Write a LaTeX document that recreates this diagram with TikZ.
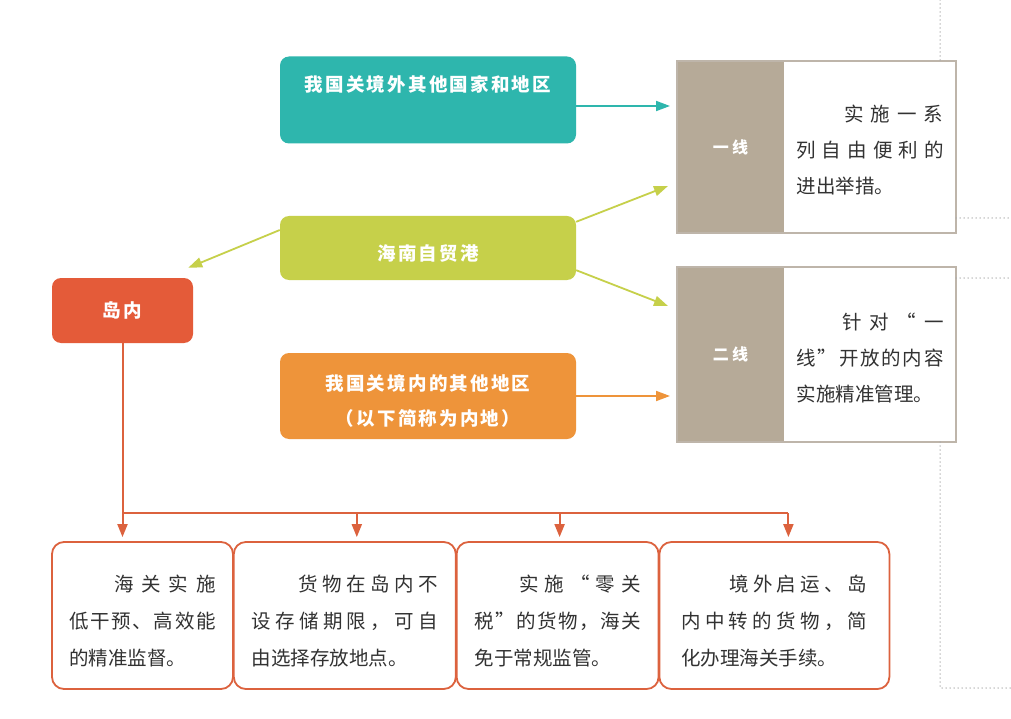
\documentclass[tikz,border=0pt]{standalone}
\usepackage{fontspec}
\usepackage{xcolor}
\usetikzlibrary{positioning,arrows.meta}
\newfontfamily\cjk{Noto Sans CJK SC}
\newfontfamily\cjktag[LetterSpace=20]{Noto Sans CJK SC}
\newfontfamily\cjkhead[LetterSpace=12]{Noto Sans CJK SC}
\definecolor{portTeal}{RGB}{46,182,173}
\definecolor{portGreen}{RGB}{198,208,74}
\definecolor{portOrange}{RGB}{238,148,58}
\definecolor{portRed}{RGB}{228,91,57}
\definecolor{portTaupe}{RGB}{182,170,152}
\definecolor{portFrame}{RGB}{190,181,170}
\definecolor{portLine}{RGB}{220,98,62}
\definecolor{portInk}{RGB}{50,50,50}
\definecolor{portDots}{RGB}{170,170,170}
\newcommand\jstop{}
\newcommand\jnext[1]{\ifx#1\jstop\else\hfill#1\expandafter\jnext\fi}
\newcommand\jfirst[1]{#1\jnext}
\newcommand\jline[2]{\hbox to #1{\jfirst#2\jstop}}
\newcommand\lift[1]{\rule{0pt}{#1pt}}

\begin{document}
\begin{tikzpicture}[x=1pt,y=-1pt,
    colorbox/.style={rounded corners=9pt,minimum width=296pt,inner sep=0pt,align=center,
      text=white,font=\cjkhead\bfseries\fontsize{18.5}{34}\selectfont},
    tagbox/.style={fill=portTaupe,minimum width=107pt,inner sep=0pt,outer sep=0pt,
      text=white,font=\cjktag\bfseries\fontsize{16}{20}\selectfont},
    notebox/.style={minimum width=172pt,inner sep=0pt,outer sep=0pt,align=left,
      text=portInk,font=\cjk\fontsize{19.5}{36}\selectfont},
    frameline/.style={draw=portFrame,line width=1.8pt},
    bottomnote/.style={draw=portLine,fill=white,line width=1.8pt,rounded corners=12pt,
      minimum height=147pt,align=left,text=portInk,font=\cjk\fontsize{19.5}{37}\selectfont},
    link/.style={line width=1.8pt,-{Triangle[length=14pt,width=10pt]}},
    redline/.style={draw=portLine,line width=2pt},
    dotline/.style={portDots,line width=1.5pt,line cap=round,dash pattern=on 0pt off 4pt}]
    \useasboundingbox (0,0) rectangle (1011,719);
    \fill[white] (0,0) rectangle (1011,719);

    \node[colorbox,fill=portTeal,minimum height=87pt] (abroad) at (428,100)
      {我国关境外其他国家和地区\\ \mbox{}};
    \node[colorbox,fill=portGreen,minimum height=64pt] (port) at (428,248)
      {\lift{26}海南自贸港};
    \node[colorbox,fill=portOrange,minimum height=86pt,
      font=\cjkhead\bfseries\fontsize{18.5}{35}\selectfont] (mainland) at (428,396)
      {\lift{26}我国关境内的其他地区\\（以下简称为内地）};
    \node[colorbox,fill=portRed,minimum width=141pt,minimum height=65pt] (island)
      at (122.5,310.5) {岛内};

    \node[tagbox,minimum height=172pt] (yixian) at (730.5,147) {一线};
    \node[notebox,minimum height=172pt,right=0pt of yixian] (yixiannote)
      {\lift{23}\hspace*{48pt}\jline{99pt}{实施一系}\\\jline{147pt}{列自由便利的}\\进出举措。};
    \draw[frameline] (yixian.north west) rectangle (yixiannote.south east);
    \node[tagbox,minimum height=175pt] (erxian) at (730.5,354.5) {二线};
    \node[notebox,minimum height=175pt,right=0pt of erxian] (erxiannote)
      {\lift{23}\hspace*{46pt}\jline{101pt}{针对“一}\\\jline{147pt}{线”开放的内容}\\实施精准管理。};
    \draw[frameline] (erxian.north west) rectangle (erxiannote.south east);

    \node[bottomnote,minimum width=181pt] (inA) at (142.5,615.5)
      {\lift{27}\hspace*{45pt}\jline{102pt}{海关实施}\\\jline{147pt}{低干预、高效能}\\的精准监督。};
    \node[bottomnote,minimum width=222pt,right=-1pt of inA] (inB)
      {\lift{27}\hspace*{47pt}\jline{139pt}{货物在岛内不}\\\jline{186pt}{设存储期限，可自}\\由选择存放地点。};
    \node[bottomnote,minimum width=202pt,right=-1pt of inB] (inC)
      {\lift{27}\hspace*{45pt}\jline{121pt}{实施“零关}\\\jline{166pt}{税”的货物，海关}\\免于常规监管。};
    \node[bottomnote,minimum width=230pt,right=-1pt of inC] (inD)
      {\lift{27}\hspace*{48pt}\jline{138pt}{境外启运、岛}\\\jline{186pt}{内中转的货物，简}\\化办理海关手续。};

    \draw[link,portTeal] ([yshift=-6pt]abroad.east) -- ([xshift=-7pt,yshift=41pt]yixian.west);
    \draw[link,portGreen] ([yshift=-6pt]port.north east) -- ([xshift=-9pt,yshift=-39pt]yixian.west);
    \draw[link,portGreen] ([yshift=10pt]port.south east) -- ([xshift=-9pt,yshift=48.5pt]erxian.west);
    \draw[link,portGreen] ([yshift=18pt]port.west) -- ([xshift=-5pt,yshift=10pt]island.north east);
    \draw[link,portOrange] (mainland.east) -- ([xshift=-7pt,yshift=-41.5pt]erxian.west);

    \coordinate (fork) at ([yshift=-170pt]island.south);
    \coordinate (dropA) at (island.south |- inA.north);
    \coordinate (dropB) at ([xshift=12pt]inB.north);
    \coordinate (dropC) at ([xshift=2pt]inC.north);
    \coordinate (dropD) at ([xshift=14pt]inD.north);
    \draw[redline] (island.south) -- (fork) -- (fork -| dropD);
    \foreach \d in {dropA,dropB,dropC,dropD}
      {\draw[redline,shorten >=4pt,-{Triangle[length=13pt,width=10pt]}] (fork -| \d) -- (\d);}

    \draw[dotline] (940,0) -- (940,61);
    \draw[dotline] (956,218) -- (1011,218);
    \draw[dotline] (956,278) -- (1011,278);
    \draw[dotline] (940,442) -- (940,688) -- (1011,688);
  \end{tikzpicture}
\end{document}
